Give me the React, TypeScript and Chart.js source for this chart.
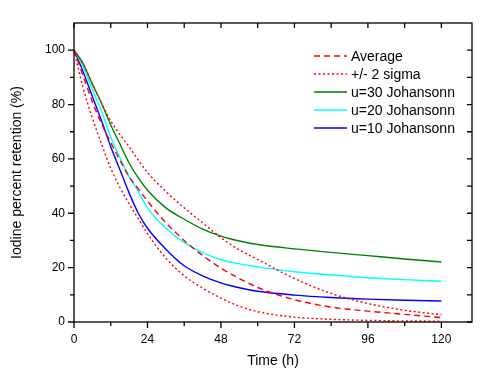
import React, { useEffect, useRef } from "react";
import { Chart, registerables } from "chart.js";
Chart.register(...registerables);

// ---- data ----
const timeHours = [0, 3, 6, 9, 12, 15, 18, 21, 24, 30, 36, 42, 48, 54, 60, 72, 84, 96, 108, 120];
const averageRetention = [100, 90.5, 81, 73, 66, 59.5, 53.5, 49, 44.5, 36.5, 30, 24.5, 19.8, 16, 12.7, 8.2, 5.5, 4, 2.8, 1.6];
const plusTwoSigma = [100, 95, 87.5, 80.5, 74, 69, 64.5, 59.5, 55, 48, 42, 36.5, 31, 26.5, 23, 16, 10.5, 6.8, 4.3, 2.7];
const minusTwoSigma = [100, 86, 75, 65.5, 56.5, 49.5, 43.5, 38, 32.5, 23.5, 17, 12.5, 8.8, 5.8, 3.8, 1.8, 1, 0.6, 0.4, 0.3];
const johansonnU30 = [100, 95, 87.5, 80.5, 72.5, 65.5, 58.5, 53, 48.5, 42, 37.8, 34.2, 31.6, 29.8, 28.5, 26.9, 25.6, 24.4, 23.2, 22.1];
const johansonnU20 = [100, 94, 85.5, 77.5, 68, 60.5, 53.5, 48, 42, 34.5, 29.2, 25.5, 22.9, 21.4, 20.3, 18.5, 17.3, 16.3, 15.6, 15];
const johansonnU10 = [100, 92, 83, 74, 64.5, 56, 47.5, 40, 34.5, 26.8, 20.7, 17, 14.4, 12.6, 11.3, 9.9, 9, 8.4, 8, 7.7];

const xTickLabels = [0, 24, 48, 72, 96, 120];
const xTickMarks = [0, 12, 24, 36, 48, 60, 72, 84, 96, 108, 120];
const yTickLabels = [0, 20, 40, 60, 80, 100];
const yTickMarks = [0, 10, 20, 30, 40, 50, 60, 70, 80, 90, 100];

const FONT = "'Liberation Sans', Arial, sans-serif";

const pts = (vals: number[]) => vals.map((v, i) => ({ x: timeHours[i], y: v }));

const framePlugin = {
  id: "frame",
  afterDraw(chart: any) {
    const { ctx, chartArea, scales } = chart;
    const { left, right, top, bottom } = chartArea;
    const x = scales.x;
    const y = scales.y;
    ctx.save();
    ctx.strokeStyle = "#000";
    ctx.lineWidth = 1.3;
    ctx.setLineDash([]);
    ctx.strokeRect(left, top, right - left, bottom - top);
    ctx.beginPath();
    xTickMarks.forEach((v) => {
      const px = x.getPixelForValue(v);
      const len = v % 24 === 0 ? 6 : 4;
      ctx.moveTo(px, bottom);
      ctx.lineTo(px, bottom + len);
      ctx.moveTo(px, top);
      ctx.lineTo(px, top + 5);
    });
    yTickMarks.forEach((v) => {
      const py = y.getPixelForValue(v);
      const len = v % 20 === 0 ? 6 : 4;
      ctx.moveTo(left, py);
      ctx.lineTo(left - len, py);
      ctx.moveTo(right, py);
      ctx.lineTo(right - 5, py);
    });
    ctx.stroke();

    // legend
    const lx = right - 158;
    let ly = top + 33;
    ctx.font = `14px ${FONT}`;
    ctx.textBaseline = "middle";
    ctx.textAlign = "left";
    chart.data.datasets.forEach((ds: any) => {
      if (!ds.label) return;
      ctx.beginPath();
      ctx.strokeStyle = ds.borderColor;
      ctx.lineWidth = ds.borderWidth;
      ctx.setLineDash(ds.borderDash || []);
      ctx.moveTo(lx, ly);
      ctx.lineTo(lx + 33, ly);
      ctx.stroke();
      ctx.setLineDash([]);
      ctx.fillStyle = "#000";
      ctx.fillText(ds.label, lx + 37, ly + 1);
      ly += 18;
    });
    ctx.restore();
  },
};

export default function App() {
  const ref = useRef<HTMLCanvasElement>(null);
  useEffect(() => {
    if (!ref.current) return;
    const red = "#ff0000";
    const chart = new Chart(ref.current, {
      type: "line",
      data: {
        datasets: [
          { label: "Average", data: pts(averageRetention), borderColor: red, borderWidth: 1.4, borderDash: [6, 4] },
          { label: "+/- 2 sigma", data: pts(plusTwoSigma), borderColor: red, borderWidth: 1.4, borderDash: [2, 2.5] },
          { label: "", data: pts(minusTwoSigma), borderColor: red, borderWidth: 1.4, borderDash: [2, 2.5] },
          { label: "u=30 Johansonn", data: pts(johansonnU30), borderColor: "#008000", borderWidth: 1.4 },
          { label: "u=20 Johansonn", data: pts(johansonnU20), borderColor: "#00ffff", borderWidth: 1.4 },
          { label: "u=10 Johansonn", data: pts(johansonnU10), borderColor: "#0000ff", borderWidth: 1.4 },
        ] as any,
      },
      options: {
        animation: false,
        responsive: false,
        layout: { padding: { left: 0, right: 31, top: 23, bottom: 0 } },
        elements: {
          point: { radius: 0 },
          line: { cubicInterpolationMode: "monotone", fill: false },
        },
        plugins: { legend: { display: false }, tooltip: { enabled: false } },
        scales: {
          x: {
            type: "linear",
            min: 0,
            max: 130,
            grid: { display: false, drawTicks: false },
            border: { display: false },
            afterBuildTicks: (s: any) => {
              s.ticks = xTickLabels.map((v) => ({ value: v }));
            },
            afterFit: (s: any) => {
              s.height = 70;
            },
            ticks: { color: "#000", font: { family: FONT, size: 12 }, padding: 10, maxRotation: 0 },
            title: {
              display: true,
              text: "Time (h)",
              color: "#000",
              font: { family: FONT, size: 14 },
              padding: { top: 0, bottom: 22 },
            },
          },
          y: {
            type: "linear",
            min: 0,
            max: 110,
            grid: { display: false, drawTicks: false },
            border: { display: false },
            afterBuildTicks: (s: any) => {
              s.ticks = yTickLabels.map((v) => ({ value: v }));
            },
            afterFit: (s: any) => {
              s.width = 74;
            },
            ticks: { color: "#000", font: { family: FONT, size: 12 }, padding: 9 },
            title: {
              display: true,
              text: "Iodine percent retention (%)",
              color: "#000",
              font: { family: FONT, size: 14 },
              padding: { top: 9, bottom: 0 },
            },
          },
        },
      },
      plugins: [framePlugin],
    });
    return () => chart.destroy();
  }, []);
  return (
    <div style={{ position: "absolute", left: 0, top: 0, width: 503, height: 392, background: "#fff" }}>
      <canvas ref={ref} width={503} height={392} />
    </div>
  );
}
